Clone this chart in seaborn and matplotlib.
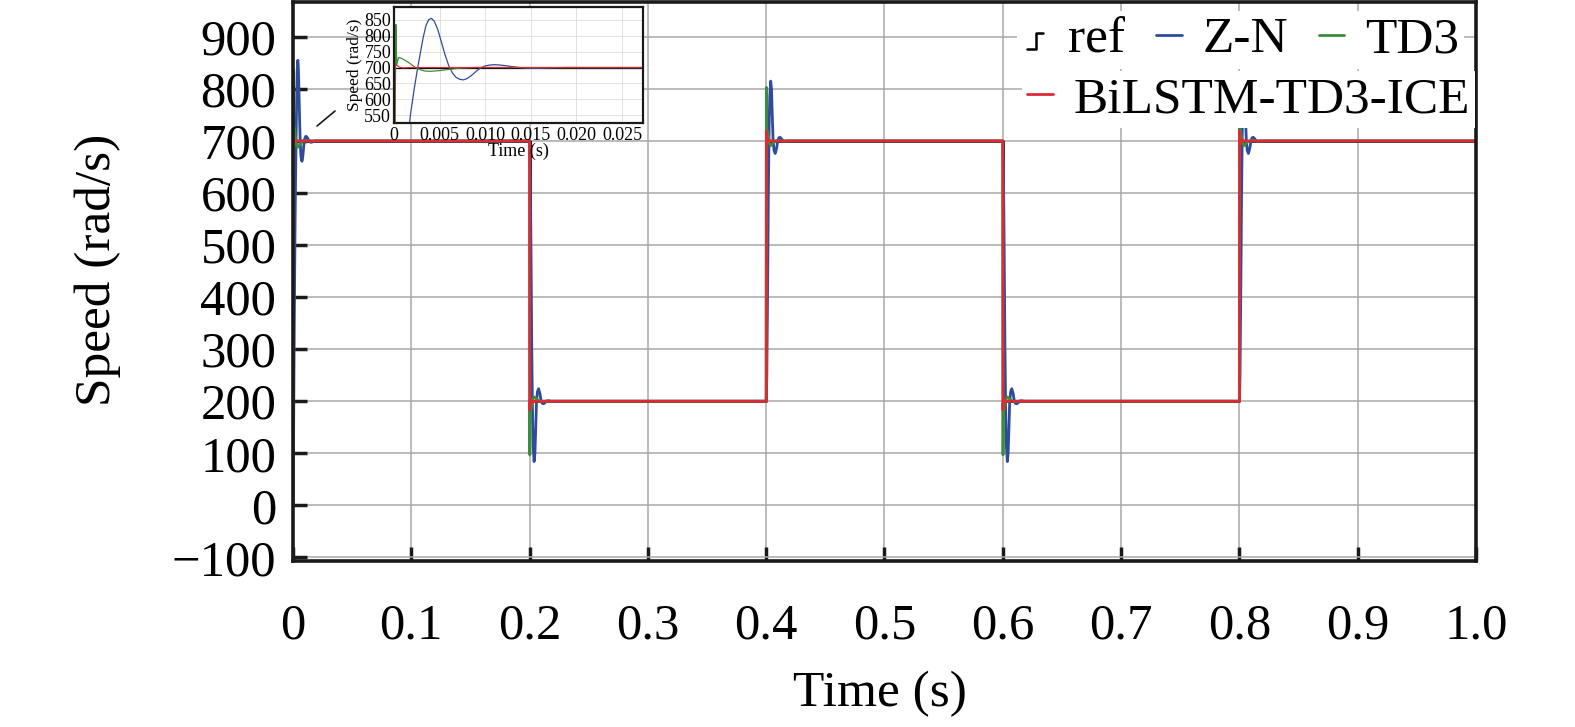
import matplotlib
matplotlib.use('Agg')
import matplotlib.pyplot as plt
import numpy as np
import pandas as pd
import seaborn as sns
from matplotlib.lines import Line2D
from matplotlib.legend_handler import HandlerBase

# reference step signal
ref_time = [0.0, 0.2, 0.4, 0.6, 0.8, 1.0]
ref_speed = [700, 200, 700, 200, 700, 700]

# times of the later set-point changes and their direction
step_times = [0.2, 0.4, 0.6, 0.8]
step_kind = ['down', 'up', 'down', 'up']

# Z-N
zn_first_t = [0, 0.0004, 0.0008, 0.0012, 0.0015, 0.0018, 0.0022, 0.0026, 0.0029, 0.0032,
              0.0035, 0.0038, 0.0041, 0.0044, 0.0048, 0.0052, 0.0056, 0.006, 0.0064,
              0.0068, 0.0072, 0.0076, 0.008, 0.0085, 0.009, 0.0095, 0.01, 0.0105, 0.011,
              0.0116, 0.0122, 0.0129, 0.0136, 0.0143, 0.015, 0.0158, 0.0167, 0.0178,
              0.019, 0.0205]
zn_first = [0, 100, 250, 380, 470, 550, 630, 700, 748, 795,
            832, 851, 855, 847, 820, 780, 740, 706, 683,
            669, 663, 661, 665, 675, 688, 699, 705, 708, 709,
            708, 706, 703, 700.5, 698.5, 697.5, 697.5, 698.5, 699.5,
            700.2, 700]
zn_dt = [0, 0.0005, 0.001, 0.0015, 0.0018, 0.0025, 0.003, 0.0038, 0.0045, 0.005,
         0.0058, 0.0066, 0.0076, 0.0087, 0.0097, 0.0107, 0.0117, 0.013, 0.0145, 0.016, 0.018]
zn_up = [200, 245, 365, 500, 593, 730, 785, 815, 800, 760,
         703, 682, 676, 685, 699, 706, 707, 704, 699.5, 699, 700]
zn_down = [700, 655, 535, 400, 307, 170, 115, 84, 100, 135,
           197, 218, 224, 215, 201, 196, 195, 197, 200.5, 201, 200]

# TD3
td3_first_t = [0, 0.0001, 0.0002, 0.0003, 0.0005, 0.0009, 0.0016, 0.0023, 0.0029, 0.0034,
               0.004, 0.0045, 0.0052, 0.0059, 0.0066, 0.0073, 0.009, 0.012]
td3_first = [0, 420, 836, 708, 732, 728, 716, 701, 693, 689,
             688, 689, 691, 694, 696, 698, 700.5, 700]
td3_dt = td3_first_t
td3_up = [200, 500, 803, 705, 722, 719, 711, 701, 695, 692,
          691, 692, 694, 696, 697, 699, 700.5, 700]
td3_down = [700, 400, 97, 195, 178, 181, 189, 199, 204, 207,
            208, 207, 206, 204, 203, 201, 199.5, 200]

# BiLSTM-TD3-ICE
bl_dt = [0, 0.0001, 0.0003, 0.0006, 0.001, 0.0018, 0.003, 0.005]
bl_first = [0, 712, 707, 701, 699, 700, 700, 700]
bl_up = [200, 719, 712, 696, 703, 699, 701, 700]
bl_down = [700, 183, 190, 204, 197, 202, 199, 200]

x_ticks = [0, 0.1, 0.2, 0.3, 0.4, 0.5, 0.6, 0.7, 0.8, 0.9, 1.0]
x_ticklabels = ['0', '0.1', '0.2', '0.3', '0.4', '0.5', '0.6', '0.7', '0.8', '0.9', '1.0']
y_ticks = [-100, 0, 100, 200, 300, 400, 500, 600, 700, 800, 900]
ins_x_ticks = [0, 0.005, 0.010, 0.015, 0.020, 0.025]
ins_x_ticklabels = ['0', '0.005', '0.010', '0.015', '0.020', '0.025']
ins_y_ticks = [550, 600, 650, 700, 750, 800, 850]

c_zn = '#2f4b9c'
c_td3 = '#3b8c3b'
c_bl = '#dc2b35'


def build(first_t, first_v, dt, up, down):
    t = list(first_t)
    v = list(first_v)
    for st, kind in zip(step_times, step_kind):
        t += [st + d for d in dt]
        v += up if kind == 'up' else down
    t.append(1.0)
    v.append(700)
    return pd.DataFrame({'time': t, 'speed': v})


df_ref = pd.DataFrame({'time': ref_time, 'speed': ref_speed})
df_zn = build(zn_first_t, zn_first, zn_dt, zn_up, zn_down)
df_td3 = build(td3_first_t, td3_first, td3_dt, td3_up, td3_down)
df_bl = build(bl_dt, bl_first, bl_dt, bl_up, bl_down)


class StepHandler(HandlerBase):
    # small step glyph for the reference entry
    def create_artists(self, legend, orig_handle, xdescent, ydescent,
                       width, height, fontsize, trans):
        x0 = -xdescent
        y0 = -ydescent
        xs = [x0 + 0.2 * width, x0 + 0.55 * width, x0 + 0.55 * width, x0 + 0.8 * width]
        ys = [y0 + 0.1 * height, y0 + 0.1 * height, y0 + 0.55 * height, y0 + 0.55 * height]
        return [Line2D(xs, ys, color='black', lw=1.8, transform=trans)]


sns.set_style('ticks')
plt.rcParams['font.family'] = ['Liberation Serif', 'DejaVu Serif']
plt.rcParams['text.color'] = 'black'
plt.rcParams['axes.labelcolor'] = 'black'
plt.rcParams['xtick.color'] = 'black'
plt.rcParams['ytick.color'] = 'black'

fig = plt.figure(figsize=(15.75, 7.27), dpi=100)
ax = fig.add_axes([0.18603, 0.22834, 0.75111, 0.76891])

def draw(a, lw):
    sns.lineplot(data=df_ref, x='time', y='speed', ax=a, color='black', lw=lw,
                 drawstyle='steps-post', sort=False, estimator=None)
    sns.lineplot(data=df_zn, x='time', y='speed', ax=a, color=c_zn, lw=lw,
                 sort=False, estimator=None)
    sns.lineplot(data=df_td3, x='time', y='speed', ax=a, color=c_td3, lw=lw,
                 sort=False, estimator=None)
    sns.lineplot(data=df_bl, x='time', y='speed', ax=a, color=c_bl, lw=lw,
                 sort=False, estimator=None)

draw(ax, 2.0)
ax.set_xlim(0, 1.0)
ax.set_ylim(-107, 967)
ax.set_xticks(x_ticks)
ax.set_xticklabels(x_ticklabels)
ax.set_yticks(y_ticks)
ax.grid(True, color='#a8a8a8', lw=1.1)
for s in ax.spines.values():
    s.set_linewidth(2.6)
    s.set_color('#1a1a1a')
ax.tick_params(axis='both', direction='in', length=10, width=2.5, labelsize=36.5,
               color='#1a1a1a', labelcolor='black')
ax.tick_params(axis='x', pad=30)
ax.tick_params(axis='y', pad=12)
ax.set_xlabel('Time (s)', fontsize=37)
ax.set_ylabel('Speed (rad/s)', fontsize=37)
ax.xaxis.set_label_coords(0.496, -0.197)
ax.yaxis.set_label_coords(-0.145, 0.52)

# legends
ref_proxy = Line2D([], [], color='black')
zn_proxy = Line2D([], [], color=c_zn, lw=2)
td3_proxy = Line2D([], [], color=c_td3, lw=2)
bl_proxy = Line2D([], [], color=c_bl, lw=2)
leg1 = ax.legend([ref_proxy, zn_proxy, td3_proxy], ['ref', 'Z-N', 'TD3'],
                 handler_map={ref_proxy: StepHandler()}, ncol=3, loc='center right',
                 bbox_to_anchor=(0.99, 0.932), fontsize=37, frameon=True, fancybox=False,
                 edgecolor='none', facecolor='white', framealpha=1, handlelength=0.5,
                 handletextpad=0.4, columnspacing=0.6, borderpad=0.1, borderaxespad=0)
ax.add_artist(leg1)
ax.legend([bl_proxy], ['BiLSTM-TD3-ICE'], loc='center right',
          bbox_to_anchor=(0.999, 0.825), fontsize=37, frameon=True, fancybox=False,
          edgecolor='none', facecolor='white', framealpha=1, handlelength=0.5,
          handletextpad=0.4, borderpad=0.1, borderaxespad=0)

# zoomed inset of the first transient
ins = fig.add_axes([0.25016, 0.83081, 0.15810, 0.15956])
ins.set_facecolor('white')
draw(ins, 0.9)
ins.set_xlim(0, 0.0273)
ins.set_ylim(525, 891)
ins.set_xticks(ins_x_ticks)
ins.set_xticklabels(ins_x_ticklabels)
ins.set_yticks(ins_y_ticks)
ins.grid(True, color='#dcdcdc', lw=0.6)
for s in ins.spines.values():
    s.set_linewidth(1.6)
    s.set_color('#1a1a1a')
ins.tick_params(axis='both', length=0, labelsize=13, pad=2)
ins.tick_params(axis='x', pad=3)
ins.set_xlabel('Time (s)', fontsize=13, labelpad=-1)
ins.set_ylabel('Speed (rad/s)', fontsize=12.5, labelpad=1)

fig.add_artist(Line2D([0.2013, 0.2127], [0.8267, 0.8473], color='#1a1a1a', lw=1.2,
                      transform=fig.transFigure))

fig.savefig('out.png', dpi=100)
